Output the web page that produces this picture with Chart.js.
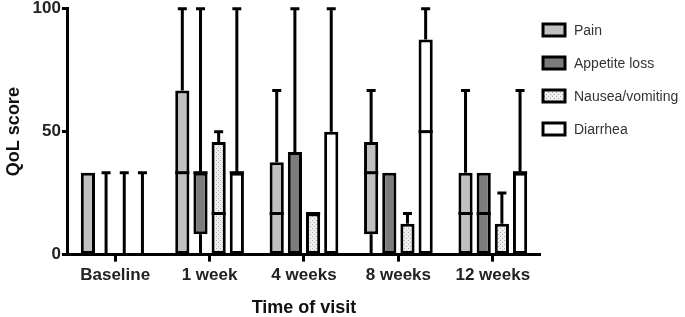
<!DOCTYPE html>
<html>
<head>
<meta charset="utf-8">
<script src="https://cdn.jsdelivr.net/npm/chart.js@4/dist/chart.umd.min.js"></script>
<style>
  html, body { margin: 0; padding: 0; background: #fff; }
  #wrap { width: 685px; height: 317px; position: relative; }
</style>
</head>
<body>
<div id="wrap"><canvas id="qolChart"></canvas></div>
<script>
const visits = ['Baseline', '1 week', '4 weeks', '8 weeks', '12 weeks'];
const symptoms = ['Pain', 'Appetite loss', 'Nausea/vomiting', 'Diarrhea'];

// box summaries (QoL score 0-100)
const painMin = [0, 0, 0, 0, 0];
const painQ1 = [0, 0, 0, 8.3, 0];
const painMedian = [0, 33.3, 16.7, 33.3, 16.7];
const painQ3 = [33.3, 66.7, 37.5, 45.8, 33.3];
const painMax = [33.3, 100, 66.7, 66.7, 66.7];

const appetiteMin = [0, 0, 0, 0, 0];
const appetiteQ1 = [0, 8.3, 0, 0, 0];
const appetiteMedian = [0, 33.3, 0, 0, 16.7];
const appetiteQ3 = [0, 33.3, 41.7, 33.3, 33.3];
const appetiteMax = [33.3, 100, 100, 33.3, 33.3];

const nauseaMin = [0, 0, 0, 0, 0];
const nauseaQ1 = [0, 0, 0, 0, 0];
const nauseaMedian = [0, 16.7, 16.7, 0, 0];
const nauseaQ3 = [0, 45.8, 16.7, 12.5, 12.5];
const nauseaMax = [33.3, 50, 16.7, 16.7, 25];

const diarrheaMin = [0, 0, 0, 0, 0];
const diarrheaQ1 = [0, 0, 0, 0, 0];
const diarrheaMedian = [0, 33.3, 0, 50, 33.3];
const diarrheaQ3 = [0, 33.3, 50, 87.5, 33.3];
const diarrheaMax = [33.3, 100, 100, 100, 66.7];

const yTicks = [0, 50, 100];

const FONT = '"Liberation Sans", Arial, Helvetica, sans-serif';

function dotPattern() {
    const c = document.createElement('canvas');
    c.width = 4; c.height = 4;
    const g = c.getContext('2d');
    g.fillStyle = '#efefef';
    g.fillRect(0, 0, 4, 4);
    g.fillStyle = '#ababab';
    g.fillRect(0, 0, 1, 1);
    g.fillRect(2, 2, 1, 1);
    return g.createPattern(c, 'repeat');
}

function makeSet(label, fill, min, q1, med, q3, max) {
    return {
        label: label,
        data: visits.map((v, i) => [q1[i], q3[i]]),
        stats: { min: min, median: med, max: max, q1: q1, q3: q3 },
        backgroundColor: fill,
        borderColor: '#000',
        borderWidth: 3,
        borderSkipped: false,
        categoryPercentage: 0.77,
        barPercentage: 0.78
    };
}

// medians, whiskers and the legend on the right
const boxPlugin = {
    id: 'boxWhiskers',
    afterDatasetsDraw(chart) {
        const ctx = chart.ctx;
        const y = chart.scales.y;
        ctx.save();
        ctx.strokeStyle = '#000';
        ctx.lineWidth = 3;
        ctx.lineCap = 'butt';
        chart.data.datasets.forEach((ds, di) => {
            const meta = chart.getDatasetMeta(di);
            const s = ds.stats;
            meta.data.forEach((bar, i) => {
                const half = bar.width / 2;
                if (s.median[i] > s.q1[i] && s.median[i] < s.q3[i] + 0.01) {
                    const ym = y.getPixelForValue(s.median[i]);
                    ctx.beginPath();
                    ctx.moveTo(bar.x - half, ym);
                    ctx.lineTo(bar.x + half, ym);
                    ctx.stroke();
                }
                if (s.max[i] > s.q3[i]) {
                    const y0 = y.getPixelForValue(s.q3[i]);
                    const y1 = y.getPixelForValue(s.max[i]);
                    ctx.beginPath();
                    ctx.moveTo(bar.x, y0);
                    ctx.lineTo(bar.x, y1);
                    ctx.moveTo(bar.x - 4.5, y1);
                    ctx.lineTo(bar.x + 4.5, y1);
                    ctx.stroke();
                }
                if (s.q1[i] > s.min[i]) {
                    const y0 = y.getPixelForValue(s.q1[i]);
                    const y1 = y.getPixelForValue(s.min[i]);
                    ctx.beginPath();
                    ctx.moveTo(bar.x, y0);
                    ctx.lineTo(bar.x, y1);
                    ctx.stroke();
                }
            });
        });
        ctx.restore();
    },
    afterDraw(chart) {
        const ctx = chart.ctx;
        const x0 = chart.chartArea.right + 3;
        ctx.save();
        chart.data.datasets.forEach((ds, i) => {
            const cy = 30 + i * 33;
            ctx.fillStyle = ds.backgroundColor;
            ctx.fillRect(x0, cy - 6, 22, 12);
            ctx.strokeStyle = '#000';
            ctx.lineWidth = 3;
            ctx.strokeRect(x0, cy - 6, 22, 12);
            ctx.fillStyle = '#333';
            ctx.font = '14px ' + FONT;
            ctx.textBaseline = 'middle';
            ctx.fillText(ds.label, x0 + 31, cy + 1);
        });
        ctx.restore();
    }
};

const chart = new Chart(document.getElementById('qolChart'), {
    type: 'bar',
    data: {
        labels: visits,
        datasets: [
            makeSet(symptoms[0], '#c0c0c0', painMin, painQ1, painMedian, painQ3, painMax),
            makeSet(symptoms[1], '#7c7c7c', appetiteMin, appetiteQ1, appetiteMedian, appetiteQ3, appetiteMax),
            makeSet(symptoms[2], dotPattern(), nauseaMin, nauseaQ1, nauseaMedian, nauseaQ3, nauseaMax),
            makeSet(symptoms[3], '#ffffff', diarrheaMin, diarrheaQ1, diarrheaMedian, diarrheaQ3, diarrheaMax)
        ]
    },
    options: {
        responsive: true,
        maintainAspectRatio: false,
        animation: false,
        layout: { padding: { top: 0, right: 145, bottom: 0, left: 0 } },
        plugins: {
            legend: { display: false },
            tooltip: { enabled: false }
        },
        scales: {
            x: {
                offset: true,
                border: { display: true, color: '#000', width: 3 },
                grid: {
                    offset: false,
                    drawOnChartArea: false,
                    drawTicks: true,
                    tickLength: 7,
                    tickWidth: 3,
                    tickColor: '#000',
                    color: '#000'
                },
                ticks: {
                    color: '#222',
                    padding: 4,
                    maxRotation: 0,
                    font: { family: FONT, size: 17, weight: 'bold' }
                },
                title: {
                    display: true,
                    text: 'Time of visit',
                    color: '#111',
                    padding: { top: 9, bottom: 0 },
                    font: { family: FONT, size: 18, weight: 'bold', lineHeight: 1 }
                }
            },
            y: {
                min: 0,
                max: 100,
                afterBuildTicks(scale) { scale.ticks = yTicks.map(v => ({ value: v })); },
                border: { display: true, color: '#000', width: 3 },
                grid: {
                    drawOnChartArea: false,
                    drawTicks: true,
                    tickLength: 6,
                    tickWidth: 3,
                    tickColor: '#000',
                    color: '#000'
                },
                ticks: {
                    color: '#222',
                    padding: 1,
                    font: { family: FONT, size: 17, weight: 'bold', lineHeight: 0.9 }
                },
                title: {
                    display: true,
                    text: 'QoL score',
                    color: '#111',
                    padding: { top: 3, bottom: 7 },
                    font: { family: FONT, size: 18, weight: 'bold' }
                }
            }
        }
    },
    plugins: [boxPlugin]
});
</script>
</body>
</html>
